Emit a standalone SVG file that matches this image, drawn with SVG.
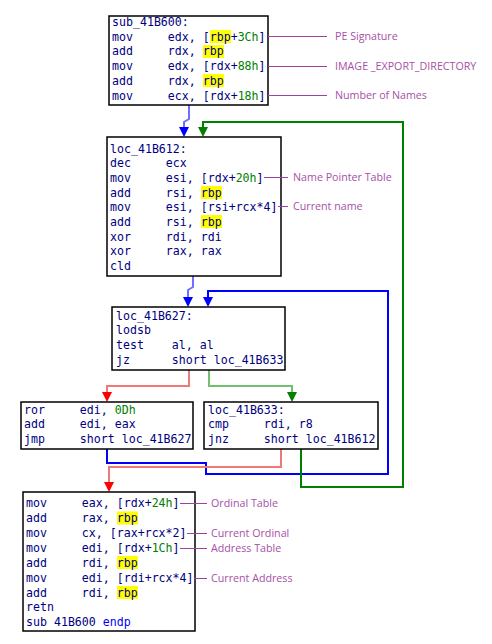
<svg xmlns="http://www.w3.org/2000/svg" width="492" height="644" viewBox="0 0 492 644">
<style>
.box{fill:#fff;stroke:#000;stroke-width:1.5}
.c{font-family:"DejaVu Sans Mono","Liberation Mono",monospace;font-size:11.6px;fill:#000080;white-space:pre}
.g{fill:#008000}
.bl{fill:#0000ff}
.hl{fill:#ffff00}
.lbl{font-family:"Open Sans","Noto Sans",sans-serif;font-size:10.7px;fill:#a650a6}
.al{stroke:#a040a0;stroke-width:1;fill:none}
.e{fill:none;stroke-width:2}
</style>
<rect width="492" height="644" fill="#fff"/>
<g id="edges">
<path class="e" stroke="#7070ff" d="M189,105 V119 L184,122 V128"/>
<polygon fill="#0000ff" points="179,127 189,127 184,137"/>
<path class="e" stroke="#7070ff" d="M193,276 V287 L188,290 V298"/>
<polygon fill="#0000ff" points="183,297 193,297 188,307"/>
<path class="e" stroke="#f07878" d="M189,370 V386 H107 V393"/>
<polygon fill="#ff0000" points="102,392 112,392 107,402"/>
<path class="e" stroke="#70c070" d="M209,370 V386 H292 V393"/>
<polygon fill="#008000" points="287,392 297,392 292,402"/>
<path class="e" stroke="#0000ff" stroke-width="2.5" d="M107,449 V463 H206 V474 H388 V291 H208 V298"/>
<polygon fill="#0000ff" points="203,297 213,297 208,307"/>
<path class="e" stroke="#008000" stroke-width="2.5" d="M301,449 V487 H403 V122 H203 V128"/>
<polygon fill="#008000" points="198,127 208,127 203,137"/>
<path class="e" stroke="#f07878" d="M281,449 V467 H109 V483"/>
<polygon fill="#ff0000" points="104,482 114,482 109,492"/>
</g>
<g id="n1">
<rect class="box" x="109" y="16" width="159" height="89"/>
<rect class="hl" x="210" y="30" width="21" height="13"/>
<rect class="hl" x="203" y="45" width="21" height="13"/>
<rect class="hl" x="203" y="74" width="21" height="13"/>
<text class="c" x="112" y="26">sub_41B600:</text>
<text class="c" x="112" y="40.7" xml:space="preserve">mov     edx, [rbp+<tspan class="g">3Ch</tspan>]</text>
<text class="c" x="112" y="55.4" xml:space="preserve">add     rdx, rbp</text>
<text class="c" x="112" y="70.1" xml:space="preserve">mov     edx, [rdx+<tspan class="g">88h</tspan>]</text>
<text class="c" x="112" y="84.8" xml:space="preserve">add     rdx, rbp</text>
<text class="c" x="112" y="99.5" xml:space="preserve">mov     ecx, [rdx+<tspan class="g">18h</tspan>]</text>
<path class="al" d="M268,36.5 H327 M268,66.5 H327 M268,95.5 H327"/>
<text class="lbl" x="335" y="40">PE Signature</text>
<text class="lbl" x="335" y="70">IMAGE _EXPORT_DIRECTORY</text>
<text class="lbl" x="335" y="99">Number of Names</text>
</g>
<g id="n2">
<rect class="box" x="107" y="137" width="174" height="139"/>
<rect class="hl" x="201" y="186" width="21" height="13"/>
<rect class="hl" x="201" y="215" width="21" height="13"/>
<text class="c" x="110" y="152.5">loc_41B612:</text>
<text class="c" x="110" y="167.2" xml:space="preserve">dec     ecx</text>
<text class="c" x="110" y="181.8" xml:space="preserve">mov     esi, [rdx+<tspan class="g">20h</tspan>]</text>
<text class="c" x="110" y="196.5" xml:space="preserve">add     rsi, rbp</text>
<text class="c" x="110" y="211.2" xml:space="preserve">mov     esi, [rsi+rcx*4]</text>
<text class="c" x="110" y="225.8" xml:space="preserve">add     rsi, rbp</text>
<text class="c" x="110" y="240.5" xml:space="preserve">xor     rdi, rdi</text>
<text class="c" x="110" y="255.2" xml:space="preserve">xor     rax, rax</text>
<text class="c" x="110" y="269.9">cld</text>
<path class="al" d="M264,177.5 H288 M278,206.5 H288"/>
<text class="lbl" x="293" y="181">Name Pointer Table</text>
<text class="lbl" x="293" y="210">Current name</text>
</g>
<g id="n3">
<rect class="box" x="112" y="307" width="173" height="63"/>
<text class="c" x="116" y="319.5">loc_41B627:</text>
<text class="c" x="116" y="334.2">lodsb</text>
<text class="c" x="116" y="348.9" xml:space="preserve">test    al, al</text>
<text class="c" x="116" y="363.6" xml:space="preserve">jz      short loc_41B633</text>
</g>
<g id="n4">
<rect class="box" x="21" y="402" width="172" height="47"/>
<text class="c" x="24" y="413.5" xml:space="preserve">ror     edi, <tspan class="g">0Dh</tspan></text>
<text class="c" x="24" y="428.2" xml:space="preserve">add     edi, eax</text>
<text class="c" x="24" y="442.9" xml:space="preserve">jmp     short loc_41B627</text>
</g>
<g id="n5">
<rect class="box" x="204" y="402" width="174" height="47"/>
<text class="c" x="208" y="413.5">loc_41B633:</text>
<text class="c" x="208" y="428.2" xml:space="preserve">cmp     rdi, r8</text>
<text class="c" x="208" y="442.9" xml:space="preserve">jnz     short loc_41B612</text>
</g>
<g id="n6">
<rect class="box" x="23" y="492" width="172" height="139"/>
<rect class="hl" x="117" y="511.5" width="21" height="13"/>
<rect class="hl" x="117" y="556" width="21" height="13"/>
<rect class="hl" x="117" y="586" width="21" height="13"/>
<text class="c" x="26" y="507.3" xml:space="preserve">mov     eax, [rdx+<tspan class="g">24h</tspan>]</text>
<text class="c" x="26" y="522.2" xml:space="preserve">add     rax, rbp</text>
<text class="c" x="26" y="537.1" xml:space="preserve">mov     cx, [rax+rcx*2]</text>
<text class="c" x="26" y="551.9" xml:space="preserve">mov     edi, [rdx+<tspan class="g">1Ch</tspan>]</text>
<text class="c" x="26" y="566.8" xml:space="preserve">add     rdi, rbp</text>
<text class="c" x="26" y="581.7" xml:space="preserve">mov     edi, [rdi+rcx*4]</text>
<text class="c" x="26" y="596.6" xml:space="preserve">add     rdi, rbp</text>
<text class="c" x="26" y="611.4">retn</text>
<text class="c" x="26" y="626.3" xml:space="preserve">sub 41B600 <tspan class="bl">endp</tspan></text>
<path class="al" d="M180,503.5 H207 M187,533.5 H207 M180,548.5 H207 M194,578.5 H207"/>
<text class="lbl" x="211" y="507">Ordinal Table</text>
<text class="lbl" x="211" y="537">Current Ordinal</text>
<text class="lbl" x="211" y="552">Address Table</text>
<text class="lbl" x="211" y="582">Current Address</text>
</g>
</svg>
